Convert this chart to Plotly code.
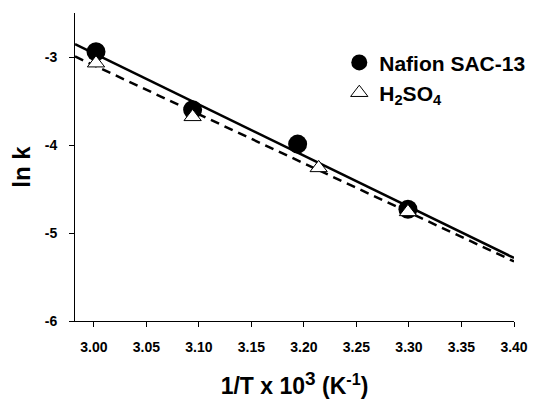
import numpy as np
import plotly.graph_objects as go

# Data
nafion_x = [3.002, 3.094, 3.194, 3.299]
nafion_y = [-2.94, -3.60, -3.99, -4.73]
h2so4_x = [3.002, 3.094, 3.214, 3.299]
h2so4_y = [-3.07, -3.68, -4.26, -4.76]
x_range = [2.982, 3.40]
y_range = [-6.0, -2.5]
x_ticks = [3.00, 3.05, 3.10, 3.15, 3.20, 3.25, 3.30, 3.35, 3.40]
y_ticks = [-3, -4, -5, -6]

# Least-squares trend lines
pn = np.polyfit(nafion_x, nafion_y, 1)
ph = np.polyfit(h2so4_x, h2so4_y, 1)
line_x = np.array(x_range)

fig = go.Figure()
fig.add_trace(go.Scatter(x=line_x, y=np.polyval(pn, line_x), mode="lines",
                         line=dict(color="black", width=2.5), showlegend=False, hoverinfo="skip"))
fig.add_trace(go.Scatter(x=line_x, y=np.polyval(ph, line_x), mode="lines",
                         line=dict(color="black", width=2.5, dash="9px,6px"), showlegend=False, hoverinfo="skip"))
fig.add_trace(go.Scatter(x=nafion_x, y=nafion_y, mode="markers", name="<b>Nafion SAC-13</b>",
                         marker=dict(symbol="circle", size=19, color="black")))
fig.add_trace(go.Scatter(x=h2so4_x, y=h2so4_y, mode="markers", name="<b>H<sub>2</sub>SO<sub>4</sub></b>",
                         marker=dict(symbol="triangle-up", size=15, color="white",
                                     line=dict(color="black", width=1))))

fig.update_layout(
    width=529, height=394,
    margin=dict(l=67, r=23, t=5, b=81),
    paper_bgcolor="white", plot_bgcolor="white",
    font=dict(family="Liberation Sans, Arial, sans-serif", color="black"),
    legend=dict(x=0.602, y=0.905, xanchor="left", yanchor="top",
                bgcolor="rgba(0,0,0,0)", font=dict(size=21),
                itemsizing="trace", tracegroupgap=0),
    xaxis=dict(range=x_range, tickvals=x_ticks, ticktext=[f"<b>{v:.2f}</b>" for v in x_ticks],
               showline=True, linecolor="black", linewidth=1, ticks="outside", ticklen=5,
               tickcolor="black", showgrid=False, zeroline=False, automargin=False,
               tickfont=dict(size=14), ticklabelstandoff=8,
               title=dict(text="<b>1/T x 10<sup><span style='font-size:19px'>3</span></sup> (K<sup>-1</sup>)</b>",
                          font=dict(size=23), standoff=24)),
    yaxis=dict(range=y_range, tickvals=y_ticks, ticktext=[f"<b>{v}</b>" for v in y_ticks],
               showline=True, linecolor="black", linewidth=1, ticks="outside", ticklen=5,
               tickcolor="black", showgrid=False, zeroline=False, automargin=False,
               tickfont=dict(size=14), ticklabelstandoff=9,
               title=dict(text="<b>ln k</b>", font=dict(size=24), standoff=9)),
)

fig.write_html("out.html")
